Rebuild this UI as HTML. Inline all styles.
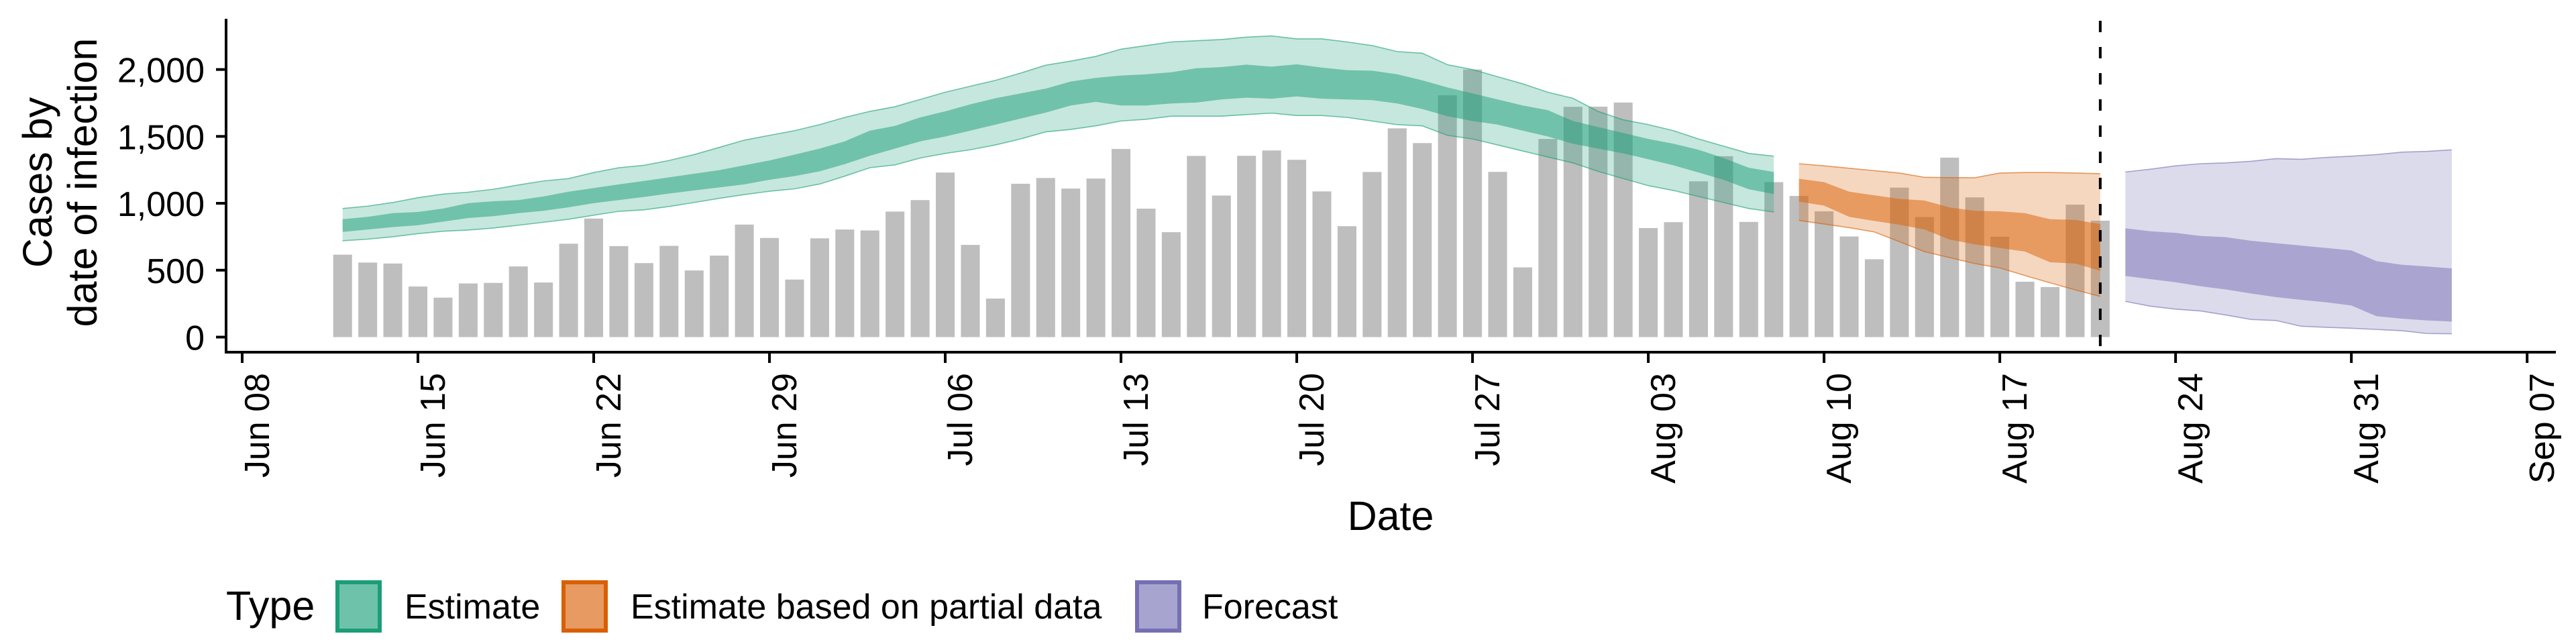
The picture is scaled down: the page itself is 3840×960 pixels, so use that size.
<!DOCTYPE html>
<html><head><meta charset="utf-8">
<style>
html,body{margin:0;padding:0;background:#fff;}
svg{display:block;font-family:"Liberation Sans",Arial,sans-serif;}
</style></head>
<body>
<svg id="chart" width="3840" height="960" viewBox="0 0 3840 960" xmlns="http://www.w3.org/2000/svg">
  <g id="bars"></g>
  <g id="ribbons"></g>
  <g id="axes"></g>
  <text transform="translate(77,272) rotate(-90)" text-anchor="middle" font-size="61">Cases by</text>
  <text transform="translate(144,272) rotate(-90)" text-anchor="middle" font-size="61">date of infection</text>
  <text x="2073" y="790" text-anchor="middle" font-size="61">Date</text>
  <g>
    <text x="337" y="924" font-size="61">Type</text>
    <rect x="503" y="868" width="63" height="72" fill="#6fc2aa" stroke="#1B9E77" stroke-width="6"/>
    <text x="603" y="922" font-size="52">Estimate</text>
    <rect x="840" y="868" width="63" height="72" fill="#e79a61" stroke="#D95F02" stroke-width="6"/>
    <text x="940" y="922" font-size="52">Estimate based on partial data</text>
    <rect x="1695" y="868" width="63" height="72" fill="#a7a4cf" stroke="#7570B3" stroke-width="6"/>
    <text x="1792" y="922" font-size="52">Forecast</text>
  </g>
</svg>
<script>
// ---- data ----
const obsStart = 4; // days after Jun 08 (Jun 12)
const obsCases = [616,557,550,378,295,401,405,528,408,698,886,680,553,682,498,609,841,741,430,738,804,797,
 938,1024,1230,689,288,1146,1189,1110,1185,1406,960,784,1354,1058,1355,1395,1325,1089,829,1234,1560,1450,1807,2000,1235,521,1481,1721,1722,1753,815,859,1164,1352,861,
 1158,1055,940,752,582,1117,897,1341,1044,750,414,374,990,870];
const estStart = 4;
const estUpper90 = [961,979,1006,1042,1069,1083,1105,1137,1167,1185,1230,1266,1284,1320,1364,1418,1472,1508,1543,1588,1642,1687,
 1722,1776,1830,1875,1919,1973,2032,2063,2098,2152,2179,2206,2215,2224,2242,2251,2229,2229,2206,2179,2134,2122,2036,2000,1946,1893,1830,1785,1687,1624,1588,1543,1481,1427,1373,1352];
const estUpper50 = [881,899,926,935,961,1001,1015,1024,1051,1087,1114,1141,1167,1194,1221,1248,1284,1320,1364,1409,1463,1543,
 1579,1642,1687,1740,1785,1821,1857,1910,1937,1955,1964,1979,2009,2018,2036,2021,2039,2014,1995,1991,1964,1919,1866,1821,1776,1731,1696,1615,1570,1526,1481,1445,1400,1338,1266,1234];
const estLower50 = [786,804,822,836,863,890,904,926,944,970,1001,1024,1047,1073,1096,1119,1141,1176,1203,1239,1293,1355,
 1409,1463,1499,1543,1588,1633,1678,1731,1758,1731,1731,1746,1753,1776,1789,1782,1799,1782,1776,1771,1746,1705,1651,1615,1588,1543,1499,1445,1409,1373,1329,1284,1230,1176,1105,1069];
const estLower90 = [720,732,750,773,791,800,815,836,858,881,911,940,951,976,1006,1037,1065,1090,1108,1144,1203,1266,
 1287,1338,1373,1400,1436,1481,1534,1552,1579,1615,1628,1651,1651,1651,1663,1674,1656,1656,1642,1615,1588,1579,1508,1481,1436,1391,1346,1302,1239,1185,1132,1096,1051,1006,961,935];
const partStart = 62;
const partUpper90 = [1296,1280,1262,1244,1226,1194,1192,1191,1226,1230,1230,1226,1221];
const partUpper50 = [1183,1158,1087,1060,1033,1021,969,944,940,926,881,876,845];
const partLower50 = [1012,983,899,868,840,804,729,693,666,639,559,550,496];
const partLower90 = [872,845,818,786,714,639,594,550,517,460,406,353,304];
const fcStart = 75;
const fcUpper90 = [1234,1255,1280,1296,1302,1314,1334,1329,1343,1352,1364,1382,1388,1400];
const fcUpper50 = [813,791,779,756,747,720,702,684,666,648,568,541,528,514];
const fcLower50 = [457,433,410,380,356,326,299,278,260,236,156,138,125,116];
const fcLower90 = [267,231,209,195,165,132,124,81,73,66,57,48,27,25];
const dataEndDay = 74;
const yTicks = [0,500,1000,1500,2000];
const yTickLabels = ["0","500","1,000","1,500","2,000"];
const xTickDays = [0,7,14,21,28,35,42,49,56,63,70,77,84,91];
const xTickLabels = ["Jun 08","Jun 15","Jun 22","Jun 29","Jul 06","Jul 13","Jul 20","Jul 27","Aug 03","Aug 10","Aug 17","Aug 24","Aug 31","Sep 07"];

// ---- scales ----
const X0 = 361, PX_DAY = 37.43;
const Y0 = 502.5, PX_CASE = 0.19945;
const xS = d => X0 + d * PX_DAY;
const yS = v => Y0 - v * PX_CASE;
const NS = "http://www.w3.org/2000/svg";
function mk(tag, attrs, parent){const e=document.createElementNS(NS,tag);for(const k in attrs)e.setAttribute(k,attrs[k]);parent.appendChild(e);return e;}

// bars
const gb = document.getElementById('bars');
obsCases.forEach((v,i)=>{
  const d = obsStart + i, w = PX_DAY*0.75;
  const r = mk('rect',{x:xS(d)-w/2,y:yS(v),width:w,height:yS(0)-yS(v),fill:'#bebebe'},gb);
  
  
});

// ribbons
const gr = document.getElementById('ribbons');
function ribbon(start, up, lo, color, op, name, outline){
  const pts = [];
  up.forEach((v,i)=>pts.push(xS(start+i)+','+yS(v)));
  for(let i=lo.length-1;i>=0;i--) pts.push(xS(start+i)+','+yS(lo[i]));
  const p = mk('polygon',{points:pts.join(' '),fill:color,'fill-opacity':op},gr);
  
  
  if(outline){
    [up,lo].forEach(arr=>{
      const l = mk('polyline',{points:arr.map((v,i)=>xS(start+i)+','+yS(v)).join(' '),fill:'none',stroke:color,'stroke-width':1.6,'stroke-opacity':0.6},gr);
      
      
    });
  }
}
ribbon(estStart, estUpper90, estLower90, '#1B9E77', 0.25, 'estimate-90-ribbon', true);
ribbon(estStart, estUpper50, estLower50, '#1B9E77', 0.5, 'estimate-50-ribbon', false);
ribbon(partStart, partUpper90, partLower90, '#D95F02', 0.25, 'partial-90-ribbon', true);
ribbon(partStart, partUpper50, partLower50, '#D95F02', 0.5, 'partial-50-ribbon', false);
ribbon(fcStart, fcUpper90, fcLower90, '#7570B3', 0.25, 'forecast-90-ribbon', true);
ribbon(fcStart, fcUpper50, fcLower50, '#7570B3', 0.5, 'forecast-50-ribbon', false);

// axes
const ga = document.getElementById('axes');
const dl = mk('line',{x1:xS(dataEndDay),x2:xS(dataEndDay),y1:31,y2:524,stroke:'#000','stroke-width':4,'stroke-dasharray':'17,22'},ga);


const ya = mk('line',{x1:337,x2:337,y1:28,y2:526.5,stroke:'#000','stroke-width':4},ga);


const xa = mk('line',{x1:335,x2:3810,y1:525,y2:525,stroke:'#000','stroke-width':4},ga);


yTicks.forEach((v,i)=>{
  const t = mk('line',{x1:322,x2:337,y1:yS(v),y2:yS(v),stroke:'#000','stroke-width':4},ga);
  
  
  const tx = mk('text',{x:305,y:yS(v)+19,'text-anchor':'end','font-size':52},ga);
  tx.textContent = yTickLabels[i];
  
  
});
xTickDays.forEach((d,i)=>{
  const x = xS(d);
  const t = mk('line',{x1:x,x2:x,y1:525,y2:541,stroke:'#000','stroke-width':4},ga);
  
  
  const tx = mk('text',{transform:'translate('+(x+40)+',556) rotate(-90)','text-anchor':'end','font-size':52},ga);
  tx.textContent = xTickLabels[i];
  
  
});
</script>
</body></html>
